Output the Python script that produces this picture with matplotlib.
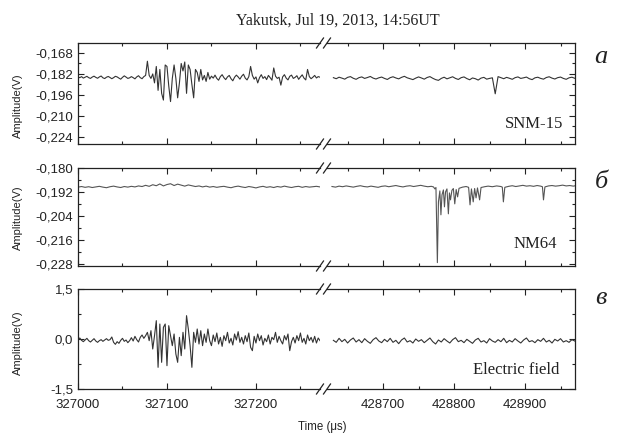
import numpy as np
import matplotlib
matplotlib.use('Agg')
import matplotlib.pyplot as plt
from matplotlib.lines import Line2D
from matplotlib.ticker import MultipleLocator, FuncFormatter

# Time grids (us)
t_left_fine = np.arange(327000, 327273, 2)
t_left_coarse = np.arange(327000, 327273, 4)
t_right = np.arange(428630, 428971, 4)

# SNM-15 amplitude (V)
snm_left = [
    -0.1840, -0.1845, -0.1838, -0.1848, -0.1842, -0.1836, -0.1845, -0.1850, -0.1841, -0.1835,
    -0.1843, -0.1849, -0.1840, -0.1834, -0.1846, -0.1851, -0.1842, -0.1837, -0.1844, -0.1852,
    -0.1845, -0.1836, -0.1840, -0.1848, -0.1855, -0.1843, -0.1833, -0.1841, -0.1850, -0.1846,
    -0.1838, -0.1845, -0.1853, -0.1840, -0.1832, -0.1845, -0.1852, -0.1838,
    -0.1830, -0.1735, -0.1830, -0.1850, -0.1820, -0.1880, -0.1770, -0.1930, -0.1790, -0.1950,
    -0.1995, -0.1760, -0.1770, -0.1900, -0.2005, -0.1850, -0.1760, -0.1850, -0.1980, -0.1880,
    -0.1750, -0.1800, -0.1740, -0.1950, -0.1760, -0.1790, -0.1890, -0.1980, -0.1790, -0.1810,
    -0.1870, -0.1790, -0.1860, -0.1830, -0.1870, -0.1810,
    -0.1855, -0.1835, -0.1848, -0.1828, -0.1850, -0.1862, -0.1838, -0.1825, -0.1845, -0.1858,
    -0.1840, -0.1830, -0.1852, -0.1866, -0.1842, -0.1828, -0.1840, -0.1855, -0.1835, -0.1822,
    -0.1848, -0.1860, -0.1838, -0.1770, -0.1830, -0.1855, -0.1840, -0.1880, -0.1845, -0.1825,
    -0.1850, -0.1838, -0.1858, -0.1830, -0.1845, -0.1862, -0.1780, -0.1835, -0.1850, -0.1842,
    -0.1895, -0.1840, -0.1825, -0.1848, -0.1860, -0.1836, -0.1828, -0.1850, -0.1843, -0.1832,
    -0.1856, -0.1840, -0.1826, -0.1848, -0.1860, -0.1790, -0.1838, -0.1852, -0.1842, -0.1830,
    -0.1847, -0.1838, -0.1842,
]
snm_right = [
    -0.1845, -0.1852, -0.1842, -0.1848, -0.1855, -0.1843, -0.1838, -0.1849, -0.1856, -0.1845,
    -0.1840, -0.1850, -0.1844, -0.1837, -0.1848, -0.1854, -0.1846, -0.1841, -0.1850, -0.1857,
    -0.1845, -0.1839, -0.1847, -0.1853, -0.1843, -0.1836, -0.1846, -0.1852, -0.1858, -0.1848,
    -0.1840, -0.1847, -0.1855, -0.1844, -0.1838, -0.1849, -0.1858, -0.1863, -0.1850, -0.1842,
    -0.1853, -0.1846, -0.1839, -0.1850, -0.1857, -0.1845, -0.1840, -0.1851, -0.1859, -0.1847,
    -0.1852, -0.1861, -0.1848, -0.1843, -0.1855, -0.1850, -0.1846, -0.1953, -0.1838, -0.1845,
    -0.1852, -0.1843, -0.1849, -0.1856, -0.1845, -0.1840, -0.1850, -0.1846, -0.1841, -0.1852,
    -0.1858, -0.1846, -0.1842, -0.1850, -0.1855, -0.1844, -0.1839, -0.1848, -0.1854, -0.1845,
    -0.1841, -0.1850, -0.1856, -0.1846, -0.1842, -0.1849,
]

# NM64 amplitude (V)
nm_left = [
    -0.1896, -0.1893, -0.1897, -0.1894, -0.1898, -0.1895, -0.1892, -0.1896, -0.1899, -0.1894,
    -0.1891, -0.1895, -0.1898, -0.1893, -0.1896, -0.1892, -0.1895, -0.1890, -0.1893, -0.1887,
    -0.1892, -0.1884, -0.1889, -0.1880, -0.1890, -0.1883, -0.1879, -0.1888, -0.1881, -0.1886,
    -0.1891, -0.1885, -0.1889, -0.1893, -0.1890, -0.1895, -0.1891, -0.1896, -0.1893, -0.1897,
    -0.1894, -0.1892, -0.1896, -0.1899, -0.1894, -0.1891, -0.1895, -0.1898, -0.1893, -0.1896,
    -0.1900, -0.1895, -0.1892, -0.1897, -0.1894, -0.1898, -0.1893, -0.1896, -0.1891, -0.1895,
    -0.1898, -0.1894, -0.1892, -0.1897, -0.1893, -0.1896, -0.1894, -0.1892, -0.1895,
]
nm_right_t = [
    428628, 428633, 428638, 428643, 428648, 428653, 428658, 428663, 428668, 428673,
    428678, 428683, 428688, 428693, 428698, 428703, 428708, 428713, 428718, 428723,
    428728, 428733, 428738, 428743, 428748, 428753, 428758, 428763, 428768,
    428771, 428773, 428774.5, 428776.5, 428778, 428780, 428781.5, 428783, 428785, 428786.5,
    428788, 428790, 428792, 428793.5, 428795, 428797, 428799, 428801, 428803, 428805,
    428807, 428812, 428817, 428820.5, 428822.5, 428824.5, 428827, 428829, 428831, 428833,
    428836, 428838, 428843,
    428848, 428854, 428860, 428866, 428868, 428869.5, 428871.5,
    428877, 428882, 428887, 428892, 428897, 428902, 428907, 428912, 428917, 428922,
    428924.5, 428926, 428928,
    428933, 428938, 428943, 428948, 428953, 428958, 428963, 428968, 428971,
]
nm_right_v = [
    -0.1893, -0.1896, -0.1891, -0.1894, -0.1890, -0.1893, -0.1896, -0.1892, -0.1889, -0.1893,
    -0.1895, -0.1891, -0.1894, -0.1897, -0.1892, -0.1890, -0.1894, -0.1891, -0.1888, -0.1892,
    -0.1895, -0.1891, -0.1889, -0.1893, -0.1890, -0.1887, -0.1891, -0.1894, -0.1892,
    -0.1895, -0.1905, -0.1898, -0.2275, -0.1970, -0.1915, -0.2035, -0.1935, -0.1910, -0.1995,
    -0.1920, -0.1905, -0.2030, -0.1925, -0.1960, -0.1912, -0.1903, -0.1980, -0.1908, -0.1945,
    -0.1902, -0.1896, -0.1893, -0.1897, -0.1985, -0.1905, -0.1970, -0.1903, -0.1950, -0.1900,
    -0.1960, -0.1898, -0.1894,
    -0.1891, -0.1894, -0.1890, -0.1893, -0.1896, -0.1970, -0.1897,
    -0.1892, -0.1889, -0.1893, -0.1890, -0.1887, -0.1891, -0.1889, -0.1892, -0.1888, -0.1891,
    -0.1894, -0.1960, -0.1895,
    -0.1890, -0.1888, -0.1891, -0.1889, -0.1886, -0.1890, -0.1888, -0.1891, -0.1889,
]

# Electric field amplitude (V)
ef_left = [
    -0.02, 0.03, -0.04, -0.08, -0.03, 0.02, -0.05, -0.09, -0.04, 0.01,
    -0.06, -0.10, -0.05, -0.02, -0.07, -0.03, 0.01, -0.04, -0.02, 0.06,
    -0.10, -0.16, -0.08, -0.13, -0.04, 0.02, -0.07, -0.03, -0.11, -0.05,
    0.04, -0.06, 0.08, -0.02, -0.09, 0.05, 0.12, 0.02,
    0.10, 0.20, -0.05, 0.25, -0.30, 0.10, 0.55, -0.85, 0.45, -0.70,
    0.35, 0.45, -0.80, 0.40, 0.10, -0.20, 0.15, -0.45, -0.70, 0.05,
    -0.50, 0.20, -0.30, 0.70, 0.30, -0.20, -0.85, 0.20, -0.10, 0.30,
    -0.15, 0.25, -0.20,
    0.15, -0.10, 0.30, -0.05, -0.20, 0.12, -0.08, 0.18, -0.15, 0.05,
    -0.22, 0.10, -0.05, 0.20, -0.12, 0.02, -0.18, 0.15, -0.03, 0.22,
    -0.10, 0.05, -0.15, 0.10, -0.08, 0.18, -0.25, -0.35, 0.08, -0.12,
    0.15, -0.05, 0.10, -0.18, 0.02, -0.08, 0.12, -0.15, 0.05, -0.02,
    0.20, -0.10, 0.08, -0.05, -0.15, 0.10, -0.03, 0.15, -0.35, -0.08,
    0.05, -0.12, 0.10, -0.05, 0.18, -0.10, 0.02, -0.15, 0.12, -0.05,
    0.05, -0.10, 0.08, -0.12, 0.03, -0.05,
]
ef_right = [
    -0.04, -0.10, 0.02, -0.08, -0.01, -0.12, -0.03, 0.03, -0.09, -0.02,
    -0.11, 0.01, -0.07, -0.13, -0.02, 0.04, -0.06, -0.11, -0.01, -0.08,
    0.02, -0.10, -0.04, -0.14, -0.03, 0.03, -0.09, -0.05, -0.12, 0.00,
    -0.07, -0.02, -0.11, -0.04, 0.03, -0.08, -0.15, -0.03, -0.09, 0.01,
    -0.06, -0.12, -0.02, 0.04, -0.08, -0.04, -0.11, -0.01, -0.07, -0.13,
    -0.03, 0.02, -0.09, -0.05, -0.12, 0.01, -0.06, -0.10, -0.02, -0.08,
    0.02, -0.11, -0.04, -0.09, 0.01, -0.06, -0.12, -0.03, 0.03, -0.08,
    -0.05, -0.11, -0.02, -0.07, 0.02, -0.09, -0.04, -0.12, -0.01, -0.06,
    0.01, -0.09, -0.05, -0.10, -0.02, -0.06,
]

left_ticks = [327000, 327100, 327200]
right_ticks = [428700, 428800, 428900]
panel_names = ['SNM-15', 'NM64', 'Electric field']
panel_letters = ['a', 'б', 'в']

SANS = 'Liberation Sans'
SERIF = 'Liberation Serif'
W, H = 621, 434


def fx(px):
    return px / W


def fy(py):
    return 1 - py / H


fig = plt.figure(figsize=(6.21, 4.34), dpi=100)

# panel rows: top, bottom (pixels), ylim, major, minor, decimals
rows = [
    (43, 144, (-0.2289, -0.1613), 0.014, 0.007, 3),
    (168, 266, (-0.2292, -0.1800), 0.012, 0.006, 3),
    (289, 389, (-1.5, 1.5), 1.5, 0.75, 1),
]
left_x = (78, 320)
right_x = (327, 575)

series = [
    ((t_left_fine, snm_left), (t_right, snm_right)),
    ((t_left_coarse, nm_left), (nm_right_t, nm_right_v)),
    ((t_left_fine, ef_left), (t_right, ef_right)),
]
line_col = ['#333333', '#555555', '#333333']

for k, (top, bot, ylim, major, minor, dec) in enumerate(rows):
    axl = fig.add_axes([fx(left_x[0]), fy(bot), fx(left_x[1] - left_x[0]), (bot - top) / H])
    axr = fig.add_axes([fx(right_x[0]), fy(bot), fx(right_x[1] - right_x[0]), (bot - top) / H])
    (tl, vl), (tr, vr) = series[k]
    axl.plot(tl, vl, color=line_col[k], lw=0.8)
    axr.plot(tr, vr, color=line_col[k], lw=0.8)

    axl.set_xlim(327000, 327272)
    axr.set_xlim(428621, 428970.4)
    for ax in (axl, axr):
        ax.set_ylim(*ylim)
        ax.yaxis.set_major_locator(MultipleLocator(major))
        ax.yaxis.set_minor_locator(MultipleLocator(minor))
        ax.xaxis.set_major_locator(MultipleLocator(100))
        ax.xaxis.set_minor_locator(MultipleLocator(50))
        ax.tick_params(which='both', direction='in', top=True, width=0.8, colors='#222222')
        ax.tick_params(which='major', length=4)
        ax.tick_params(which='minor', length=2.5)
        ax.tick_params(axis='x', pad=7)
        for s in ax.spines.values():
            s.set_linewidth(0.9)
            s.set_color('#222222')
    axl.spines['right'].set_visible(False)
    axr.spines['left'].set_visible(False)
    axl.tick_params(which='both', right=False)
    axr.tick_params(which='both', left=False, right=True, labelleft=False)

    if ylim[0] < -1:
        axl.set_yticks([-1.5, 0.0, 1.5])
    else:
        axl.set_yticks(np.arange(-0.224 if k == 0 else -0.228, ylim[1] + 1e-4, major))
    axr.set_yticks(axl.get_yticks())
    axr.set_ylim(*ylim)
    axl.set_ylim(*ylim)
    axl.yaxis.set_major_formatter(FuncFormatter(lambda v, p, d=dec: f'{v:.{d}f}'.replace('.', ',')))
    for lab in axl.get_yticklabels():
        lab.set_fontfamily(SANS)
        lab.set_fontsize(9.5)

    if k == 2:
        axl.set_xticks(left_ticks)
        axr.set_xticks(right_ticks)
        axl.xaxis.set_minor_locator(MultipleLocator(50))
        axr.xaxis.set_minor_locator(MultipleLocator(50))
        for ax in (axl, axr):
            ax.xaxis.set_major_formatter(FuncFormatter(lambda v, p: f'{int(round(v))}'))
            for lab in ax.get_xticklabels():
                lab.set_fontfamily(SANS)
                lab.set_fontsize(9.5)
    else:
        axl.tick_params(labelbottom=False)
        axr.tick_params(labelbottom=False)

    # break marks on top and bottom spines
    for yy in (top, bot):
        for xc in (320, 327):
            fig.add_artist(Line2D([fx(xc - 3.5), fx(xc + 3.5)], [fy(yy + 5), fy(yy - 5)],
                                  color='#222222', lw=0.9))

    # station label and panel letter
    label_y = [124, 244, 370][k]
    fig.text(fx([563, 557, 559][k]), fy(label_y), panel_names[k], ha='right', va='center',
             family=SERIF, fontsize=12, color='#222222')
    letter_y = [57, 182, 298][k]
    fig.text(fx(601), fy(letter_y), panel_letters[k], ha='center', va='center',
             family=SERIF, style='italic', fontsize=19, color='#222222')

    fig.text(fx(18), fy([106, 218, 343][k]), 'Amplitude(V)', rotation=90, ha='center', va='center',
             family=SANS, fontsize=8, color='#222222')

fig.text(fx(338), fy(21), 'Yakutsk, Jul 19, 2013, 14:56UT', ha='center', va='center',
         family=SERIF, fontsize=11.5, color='#222222')
fig.text(fx(322), fy(427), 'Time (\u03bcs)', ha='center', va='center',
         family=SANS, fontsize=8.3, color='#222222')

fig.savefig('out.png', dpi=100)
